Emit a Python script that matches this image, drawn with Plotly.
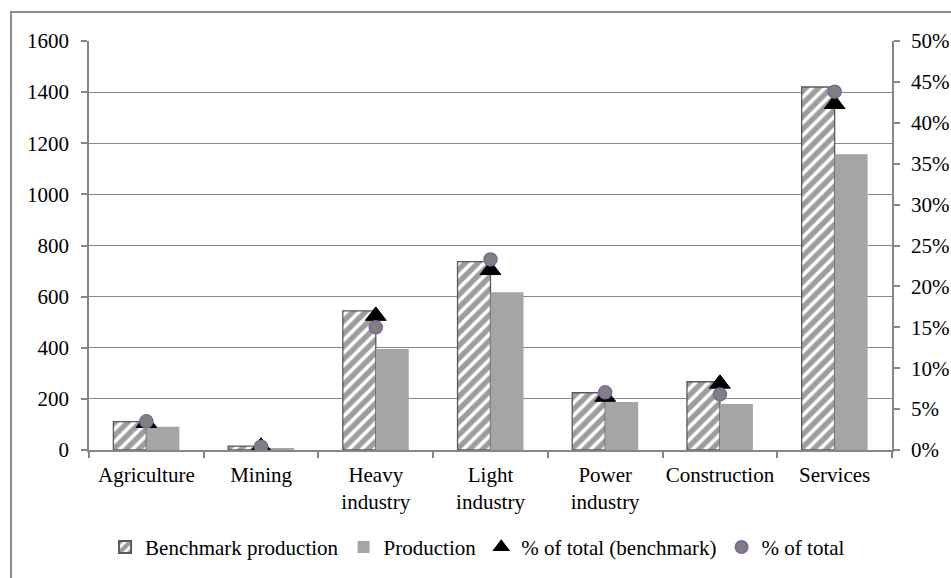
import plotly.graph_objects as go

# Output by sector, with each sector's share of the total
sectors = ["Agriculture", "Mining", "Heavy<br>industry", "Light<br>industry",
           "Power<br>industry", "Construction", "Services"]
benchmark_production = [111, 15, 544, 737, 224, 267, 1420]
production = [91, 8, 395, 617, 188, 180, 1157]
share_benchmark = [0.033, 0.004, 0.164, 0.220, 0.065, 0.081, 0.423]
share_total = [0.035, 0.004, 0.150, 0.233, 0.0705, 0.068, 0.438]

left_ticks = [0, 200, 400, 600, 800, 1000, 1200, 1400, 1600]
right_ticks = [0, 0.05, 0.10, 0.15, 0.20, 0.25, 0.30, 0.35, 0.40, 0.45, 0.50]

FONT = "Liberation Serif, Times New Roman, serif"
GRID = "#878787"
AXIS = "#868686"

fig = go.Figure()

fig.add_trace(go.Bar(
    x=sectors, y=benchmark_production, name="Benchmark production",
    marker=dict(
        color="white",
        line=dict(color="#595959", width=1.3),
        pattern=dict(shape="/", fgcolor="#3c3c3c", bgcolor="white",
                     size=9, solidity=0.6),
    ),
))
fig.add_trace(go.Bar(
    x=sectors, y=production, name="Production",
    marker=dict(color="#A5A5A5", line=dict(width=0)),
))
fig.add_trace(go.Scatter(
    x=sectors, y=share_benchmark, name="% of total (benchmark)",
    yaxis="y2", mode="markers",
    marker=dict(symbol="triangle-up", size=18, color="black",
                line=dict(color="black", width=1)),
))
fig.add_trace(go.Scatter(
    x=sectors, y=share_total, name="% of total",
    yaxis="y2", mode="markers",
    marker=dict(symbol="circle", size=13, color="#808080",
                line=dict(color="#8064A2", width=1.5)),
))

fig.update_layout(
    width=951, height=578,
    margin=dict(l=89, r=59, t=41, b=128, autoexpand=False),
    paper_bgcolor="white", plot_bgcolor="white",
    font=dict(family=FONT, size=21, color="black"),
    barmode="group", bargap=0.425, bargroupgap=0,
    showlegend=True,
    legend=dict(
        orientation="h", x=0.02, xanchor="left", y=-0.238, yanchor="middle",
        font=dict(family=FONT, size=21, color="black"),
        itemsizing="constant", bgcolor="rgba(0,0,0,0)",
        traceorder="normal",
    ),
    xaxis=dict(
        type="category", showgrid=False, tickangle=0, automargin=False,
        showline=True, linecolor=AXIS, linewidth=1.5,
        ticks="outside", tickson="boundaries", ticklen=6,
        tickcolor=AXIS, tickwidth=1.5, ticklabelstandoff=5,
        tickfont=dict(family=FONT, size=21, color="black"),
    ),
    yaxis=dict(
        range=[0, 1600], tickvals=left_ticks, tickformat="d",
        showgrid=True, gridcolor=GRID, gridwidth=1.3,
        zeroline=False, automargin=False,
        showline=True, linecolor=AXIS, linewidth=1.5,
        ticks="outside", ticklen=6, tickcolor=AXIS, tickwidth=1.5,
        ticklabelstandoff=8,
        tickfont=dict(family=FONT, size=21, color="black"),
    ),
    yaxis2=dict(
        range=[0, 0.5], tickvals=right_ticks, tickformat=".0%",
        overlaying="y", side="right", showgrid=False, zeroline=False,
        automargin=False,
        showline=True, linecolor=AXIS, linewidth=1.5,
        ticks="outside", ticklen=6, tickcolor=AXIS, tickwidth=1.5,
        ticklabelstandoff=7,
        tickfont=dict(family=FONT, size=21, color="black"),
    ),
    shapes=[dict(
        type="rect", xref="paper", yref="paper",
        x0=-0.0971, x1=1.2, y0=-0.6, y1=1.0709,
        line=dict(color="#8C8C8C", width=2), fillcolor="rgba(0,0,0,0)",
        layer="below",
    )],
)

fig.write_html("out.html")
